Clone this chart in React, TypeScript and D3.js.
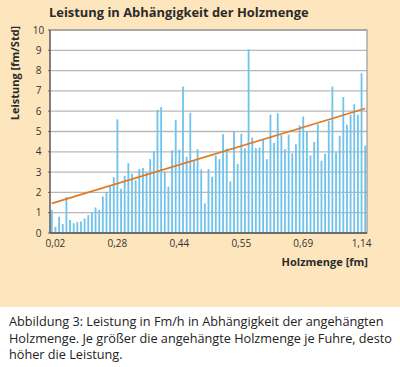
import React from 'react';
import * as d3 from 'd3';

// Leistung [fm/Std] je Fuhre, sortiert nach Holzmenge
const leistung = [
  1.13, 0.3, 0.8, 0.44, 1.77, 0.64, 0.48, 0.54, 0.57, 0.72,
  0.88, 1.0, 1.26, 1.13, 1.8, 2.02, 2.3, 2.75, 5.6, 2.18,
  2.82, 3.44, 2.92, 2.6, 3.15, 3.2, 3.0, 3.64, 4.03, 6.07,
  6.2, 3.03, 2.28, 4.08, 5.57, 4.11, 7.21, 3.75, 5.92, 3.55,
  4.13, 3.13, 1.46, 3.15, 2.77, 3.82, 3.64, 4.87, 4.16, 2.54,
  4.98, 3.41, 4.89, 4.18, 9.05, 4.7, 4.18, 4.21, 4.59, 3.64,
  5.84, 4.44, 5.9, 4.82, 4.13, 4.84, 3.93, 4.38, 5.3, 5.74,
  5.0, 3.82, 4.48, 5.36, 3.56, 3.9, 5.52, 7.21, 3.97, 4.79,
  6.7, 5.33, 5.82, 6.34, 5.82, 7.87, 4.3,
];

const tickIndex = [1, 18, 35, 52, 69, 85];
const tickLabels = ['0,02', '0,28', '0,44', '0,55', '0,69', '1,14'];
const trendEnds = [1.46, 6.13];
const yTicks = d3.range(0, 11);

const captionLines = [
  'Abbildung 3: Leistung in Fm/h in Abhängigkeit der angehängten',
  'Holzmenge. Je größer die angehängte Holzmenge je Fuhre, desto',
  'höher die Leistung.',
];

const W = 400;
const H = 367;
const plot = { left: 50, right: 367, top: 30, bottom: 233 };
const font = '"Open Sans", "DejaVu Sans", sans-serif';

export default function App() {
  const x = d3
    .scaleBand<number>()
    .domain(d3.range(leistung.length))
    .range([plot.left, plot.right])
    .paddingInner(0.5)
    .paddingOuter(0.25);
  const y = d3.scaleLinear().domain([0, 10]).range([plot.bottom, plot.top]);
  const bw = x.bandwidth();

  const trend = d3
    .line<number>()
    .x((_, i) => (i === 0 ? x(0)! : x(leistung.length - 1)!) + bw / 2)
    .y(d => y(d));

  return (
    <svg
      width={W}
      height={H}
      style={{ position: 'absolute', left: 0, top: 0, fontFamily: font }}
    >
      <rect x={0} y={0} width={W} height={307} fill="#fde5bd" />
      <rect x={0} y={307} width={W} height={H - 307} fill="#ffffff" />

      <text x={49} y={17} fontSize={12.9} fontWeight="bold" fill="#2b2b2b">
        Leistung in Abhängigkeit der Holzmenge
      </text>

      <rect
        x={plot.left}
        y={plot.top}
        width={plot.right - plot.left}
        height={plot.bottom - plot.top}
        fill="#ffffff"
      />

      {yTicks.map(t => (
        <g key={t}>
          {t > 0 && (
            <line
              x1={plot.left}
              x2={plot.right}
              y1={y(t)}
              y2={y(t)}
              stroke="#b8b8b8"
              strokeWidth={1.3}
            />
          )}
          <line x1={plot.left - 2} x2={plot.left} y1={y(t)} y2={y(t)} stroke="#666" />
          <text
            x={38.5}
            y={y(t)}
            dy="0.35em"
            textAnchor="middle"
            fontSize={10}
            fill="#333"
          >
            {t}
          </text>
        </g>
      ))}

      {leistung.map((v, i) => (
        <rect
          key={i}
          x={x(i)}
          y={y(v)}
          width={bw}
          height={y(0) - y(v)}
          fill="#72c3ec"
        />
      ))}

      <path
        d={trend(trendEnds) ?? ''}
        fill="none"
        stroke="#e2791f"
        strokeWidth={1.6}
      />

      <rect
        x={plot.left}
        y={plot.top}
        width={plot.right - plot.left}
        height={plot.bottom - plot.top}
        fill="none"
        stroke="#8a8a8a"
        strokeWidth={1}
      />
      <line x1={plot.left} x2={plot.left} y1={plot.top} y2={plot.bottom} stroke="#555" strokeWidth={1.2} />
      <line x1={plot.left} x2={plot.right} y1={plot.bottom} y2={plot.bottom} stroke="#555" strokeWidth={1.5} />

      {tickIndex.map((idx, k) => (
        <text
          key={idx}
          x={x(idx)! + bw / 2}
          y={247}
          textAnchor="middle"
          fontSize={10}
          fill="#333"
        >
          {tickLabels[k]}
        </text>
      ))}

      <text
        x={368}
        y={266}
        textAnchor="end"
        fontSize={11}
        fontWeight="bold"
        fill="#2b2b2b"
      >
        Holzmenge [fm]
      </text>

      <text
        transform="translate(19,73) rotate(-90)"
        textAnchor="middle"
        fontSize={11}
        fontWeight="bold"
        fill="#2b2b2b"
      >
        Leistung [fm/Std]
      </text>

      {captionLines.map((line, i) => (
        <text key={i} x={9} y={326 + i * 16.5} fontSize={12.7} fill="#222">
          {line}
        </text>
      ))}
    </svg>
  );
}
